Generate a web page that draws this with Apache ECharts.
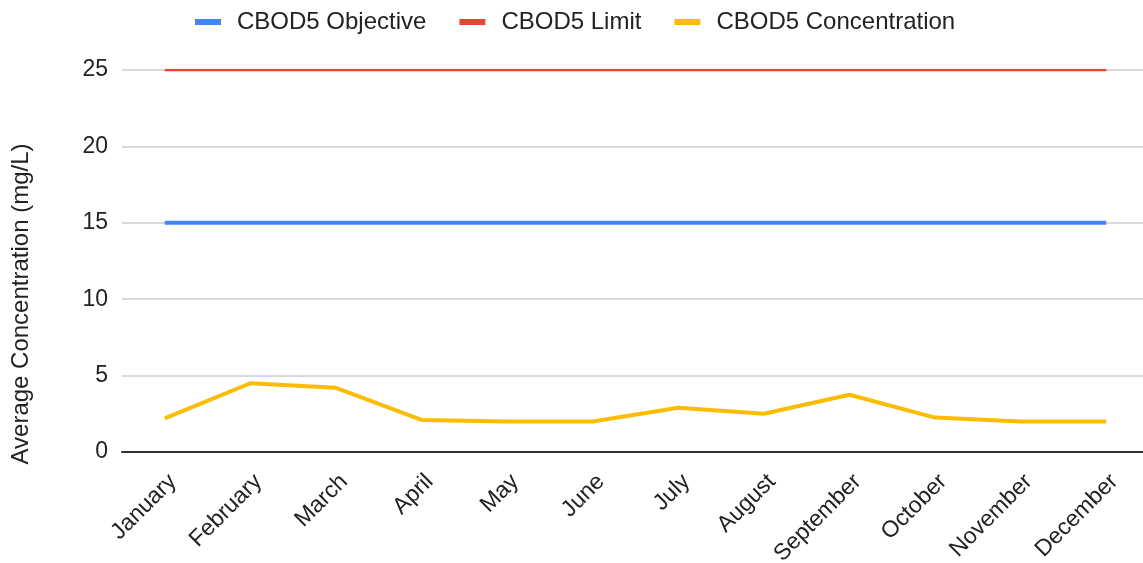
<!DOCTYPE html>
<html>
<head>
<meta charset="utf-8">
<script src="https://cdn.jsdelivr.net/npm/echarts@6/dist/echarts.min.js"></script>
<style>
  html, body { margin: 0; padding: 0; background: #fff; }
  #chart { width: 1143px; height: 563px; }
</style>
</head>
<body>
<div id="chart"></div>
<script>
const months = ["January", "February", "March", "April", "May", "June", "July",
  "August", "September", "October", "November", "December"];
const objective = [15, 15, 15, 15, 15, 15, 15, 15, 15, 15, 15, 15];
const limit = [25, 25, 25, 25, 25, 25, 25, 25, 25, 25, 25, 25];
const concentration = [2.2, 4.5, 4.2, 2.1, 2.0, 2.0, 2.9, 2.5, 3.75, 2.25, 2.0, 2.0];
const yTicks = { min: 0, max: 25, interval: 5 };

const font = "Liberation Sans, Arial, sans-serif";
const chart = echarts.init(document.getElementById("chart"));

chart.setOption({
  backgroundColor: "#ffffff",
  animation: false,
  textStyle: { fontFamily: font },
  legend: {
    data: ["CBOD5 Objective", "CBOD5 Limit", "CBOD5 Concentration"],
    left: 190,
    top: 5,
    icon: "rect",
    itemWidth: 26,
    itemHeight: 6,
    itemGap: 33,
    textStyle: {
      fontFamily: font,
      fontSize: 24,
      color: "#222222",
      padding: [0, 0, 0, 11],
    },
  },
  grid: {
    left: 122,
    right: -6,
    top: 70,
    bottom: 111,
    outerBoundsMode: "none",
  },
  xAxis: {
    type: "category",
    data: months,
    axisLine: { lineStyle: { color: "#333333", width: 2 } },
    axisTick: { show: false },
    axisLabel: {
      rotate: 45,
      interval: 0,
      fontFamily: font,
      fontSize: 23,
      color: "#222222",
      margin: 18,
      verticalAlign: "top",
    },
  },
  yAxis: {
    type: "value",
    min: yTicks.min,
    max: yTicks.max,
    interval: yTicks.interval,
    axisLine: { show: false },
    axisTick: { show: false },
    axisLabel: {
      fontFamily: font,
      fontSize: 23,
      color: "#222222",
      margin: 14,
    },
    splitLine: { lineStyle: { color: "#cccccc", width: 1.5 } },
  },
  graphic: [
    {
      type: "text",
      x: 21,
      y: 304,
      rotation: Math.PI / 2,
      style: {
        text: "Average Concentration (mg/L)",
        fontFamily: font,
        fontSize: 24,
        fill: "#222222",
        align: "center",
        verticalAlign: "middle",
      },
    },
  ],
  series: [
    {
      name: "CBOD5 Objective",
      type: "line",
      data: objective,
      symbol: "none",
      lineStyle: { color: "#4285F4", width: 4 },
      itemStyle: { color: "#4285F4" },
    },
    {
      name: "CBOD5 Limit",
      type: "line",
      data: limit,
      symbol: "none",
      lineStyle: { color: "#EA4335", width: 2.5 },
      itemStyle: { color: "#EA4335" },
    },
    {
      name: "CBOD5 Concentration",
      type: "line",
      data: concentration,
      symbol: "none",
      lineStyle: { color: "#FBBC04", width: 4 },
      itemStyle: { color: "#FBBC04" },
    },
  ],
});
</script>
</body>
</html>
